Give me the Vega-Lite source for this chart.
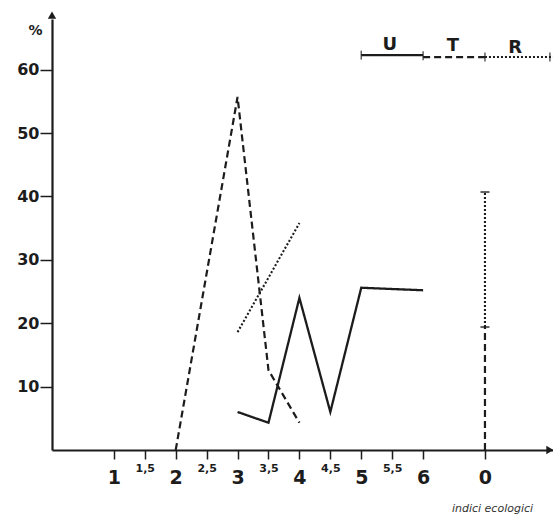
{
  "$schema": "https://vega.github.io/schema/vega-lite/v6.json",
  "width": 501,
  "height": 431,
  "autosize": {"type": "none"},
  "padding": {"left": 52, "top": 19, "right": 0, "bottom": 64},
  "background": "white",
  "config": {"view": {"stroke": null}},
  "datasets": {
    "lines": [
      {"seg": "T1", "style": "T", "i": 1, "x": 2, "y": 0},
      {"seg": "T1", "style": "T", "i": 2, "x": 3, "y": 55.7},
      {"seg": "T1", "style": "T", "i": 3, "x": 3.5, "y": 12.6},
      {"seg": "T1", "style": "T", "i": 4, "x": 4, "y": 4.3},
      {"seg": "R1", "style": "R", "i": 1, "x": 3, "y": 18.6},
      {"seg": "R1", "style": "R", "i": 2, "x": 4, "y": 35.8},
      {"seg": "U1", "style": "U", "i": 1, "x": 3, "y": 6.0},
      {"seg": "U1", "style": "U", "i": 2, "x": 3.5, "y": 4.3},
      {"seg": "U1", "style": "U", "i": 3, "x": 4, "y": 24.0},
      {"seg": "U1", "style": "U", "i": 4, "x": 4.5, "y": 6.0},
      {"seg": "U1", "style": "U", "i": 5, "x": 5, "y": 25.6},
      {"seg": "U1", "style": "U", "i": 6, "x": 6, "y": 25.2},
      {"seg": "T2", "style": "T", "i": 1, "x": 7, "y": 0},
      {"seg": "T2", "style": "T", "i": 2, "x": 7, "y": 19.4},
      {"seg": "R2", "style": "R", "i": 1, "x": 7, "y": 19.4},
      {"seg": "R2", "style": "R", "i": 2, "x": 7, "y": 40.7},
      {"seg": "UL", "style": "U", "i": 1, "x": 5, "y": 62.3},
      {"seg": "UL", "style": "U", "i": 2, "x": 6, "y": 62.3},
      {"seg": "TL", "style": "T", "i": 1, "x": 6, "y": 62.0},
      {"seg": "TL", "style": "T", "i": 2, "x": 7, "y": 62.0},
      {"seg": "RL", "style": "R", "i": 1, "x": 7, "y": 62.0},
      {"seg": "RL", "style": "R", "i": 2, "x": 8.1, "y": 62.0}
    ],
    "vcaps": [
      {"x": 5, "y": 62.3},
      {"x": 6, "y": 62.2},
      {"x": 7, "y": 62.0},
      {"x": 8.05, "y": 62.0}
    ],
    "hcaps": [
      {"x": 7, "y": 40.7},
      {"x": 7, "y": 19.4}
    ],
    "labels": [
      {"x": 5.46, "y": 63.1, "t": "U"},
      {"x": 6.48, "y": 63.0, "t": "T"},
      {"x": 7.49, "y": 62.6, "t": "R"}
    ],
    "arrows": [
      {"x": 0, "y": 68.6, "shape": "triangle-up"},
      {"x": 8.05, "y": 0, "shape": "triangle-right"}
    ]
  },
  "layer": [
    {
      "data": {"name": "lines"},
      "mark": {"type": "line", "color": "#1c1c1c", "clip": false},
      "encoding": {
        "x": {
          "field": "x", "type": "quantitative",
          "scale": {"domain": [0, 8.1], "nice": false, "zero": false},
          "axis": {
            "values": [1, 1.5, 2, 2.5, 3, 3.5, 4, 4.5, 5, 5.5, 6, 7],
            "labelExpr": "datum.value == 7 ? '0' : (datum.value % 1 != 0 ? replace(format(datum.value, '.1f'), '.', ',') : format(datum.value, 'd'))",
            "grid": false,
            "domainColor": "#1c1c1c",
            "domainWidth": 2.2,
            "tickColor": "#1c1c1c",
            "tickWidth": 1.5,
            "tickSize": 9,
            "labelFont": "DejaVu Sans",
            "labelFontWeight": "bold",
            "labelColor": "#1c1c1c",
            "labelBaseline": "top",
            "labelFontSize": {"condition": {"test": "datum.value % 1 != 0", "value": 11}, "value": 19},
            "labelPadding": {"condition": {"test": "datum.value % 1 != 0", "value": 3}, "value": 9},
            "labelFlush": false,
            "labelOverlap": false,
            "title": "indici ecologici",
            "titleFont": "DejaVu Sans",
            "titleFontSize": 11,
            "titleFontStyle": "italic",
            "titleFontWeight": "normal",
            "titleColor": "#333",
            "titleX": 440,
            "titleY": 52,
            "titleAlign": "center",
            "titleAnchor": null
          }
        },
        "y": {
          "field": "y", "type": "quantitative",
          "scale": {"domain": [0, 68], "nice": false},
          "axis": {
            "values": [10, 20, 30, 40, 50, 60],
            "grid": false,
            "domainColor": "#1c1c1c",
            "domainWidth": 2.2,
            "tickColor": "#1c1c1c",
            "tickWidth": 1.5,
            "tickSize": 12,
            "labelFont": "DejaVu Sans",
            "labelFontWeight": "bold",
            "labelFontSize": 16,
            "labelColor": "#1c1c1c",
            "labelPadding": 1,
            "title": "%",
            "titleFont": "DejaVu Sans",
            "titleFontSize": 14,
            "titleFontWeight": "bold",
            "titleColor": "#1c1c1c",
            "titleAngle": 0,
            "titleX": -17,
            "titleY": 18,
            "titleAlign": "center"
          }
        },
        "detail": {"field": "seg"},
        "order": {"field": "i"},
        "strokeDash": {
          "field": "style", "type": "nominal",
          "scale": {"domain": ["U", "T", "R"], "range": [[1, 0], [7, 4], [2, 2]]},
          "legend": null
        },
        "strokeWidth": {
          "field": "style", "type": "nominal",
          "scale": {"domain": ["U", "T", "R"], "range": [2.3, 2.1, 1.3]},
          "legend": null
        }
      }
    },
    {
      "data": {"name": "vcaps"},
      "mark": {"type": "tick", "orient": "vertical", "color": "#1c1c1c", "size": 9, "thickness": 1.5, "clip": false},
      "encoding": {
        "x": {"field": "x", "type": "quantitative"},
        "y": {"field": "y", "type": "quantitative"}
      }
    },
    {
      "data": {"name": "hcaps"},
      "mark": {"type": "tick", "orient": "horizontal", "color": "#1c1c1c", "size": 9, "thickness": 2, "clip": false},
      "encoding": {
        "x": {"field": "x", "type": "quantitative"},
        "y": {"field": "y", "type": "quantitative"}
      }
    },
    {
      "data": {"name": "labels"},
      "mark": {"type": "text", "font": "DejaVu Sans", "fontWeight": "bold", "fontSize": 18, "color": "#1c1c1c", "baseline": "alphabetic", "clip": false},
      "encoding": {
        "x": {"field": "x", "type": "quantitative"},
        "y": {"field": "y", "type": "quantitative"},
        "text": {"field": "t"}
      }
    },
    {
      "data": {"name": "arrows"},
      "mark": {"type": "point", "filled": true, "color": "#1c1c1c", "size": 70, "opacity": 1, "clip": false},
      "encoding": {
        "x": {"field": "x", "type": "quantitative"},
        "y": {"field": "y", "type": "quantitative"},
        "shape": {"field": "shape", "type": "nominal", "scale": null, "legend": null}
      }
    }
  ]
}
